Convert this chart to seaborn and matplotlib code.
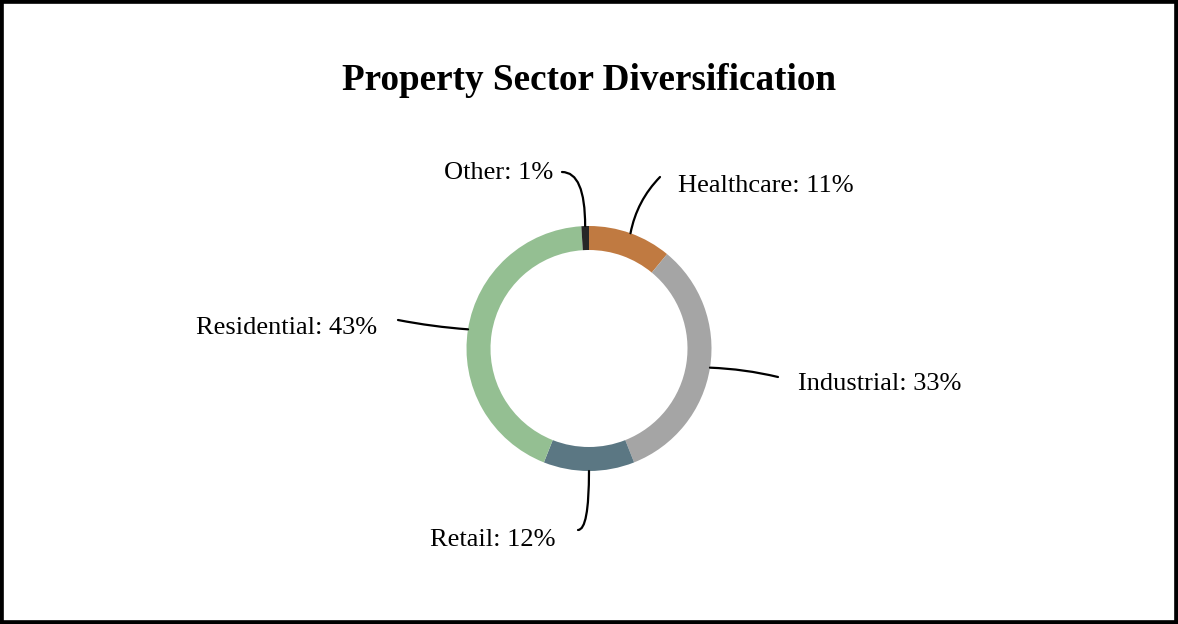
import numpy as np
import matplotlib
matplotlib.use("Agg")
import matplotlib.pyplot as plt
import seaborn as sns
from matplotlib.patches import Rectangle

sectors = ["Healthcare", "Industrial", "Retail", "Residential", "Other"]
shares = [11, 33, 12, 43, 1]
colors = ["#C07A41", "#A5A5A5", "#5B7783", "#94BF92", "#272727"]
title = "Property Sector Diversification"

sns.set_theme(style="white")
plt.rcParams["font.family"] = ["Liberation Serif", "DejaVu Serif"]

W, H = 1178, 624
fig = plt.figure(figsize=(W / 100, H / 100), dpi=100)
ax = fig.add_axes([0, 0, 1, 1])
ax.set_xlim(0, W)
ax.set_ylim(0, H)
ax.set_aspect("equal")
ax.axis("off")

cx, cy = 589, H - 348.5
R = 122.5
ring = 24

ax.pie(shares, colors=colors, startangle=90, counterclock=False,
       center=(cx, cy), radius=R, wedgeprops=dict(width=ring, linewidth=0),
       frame=True)
ax.set_xlim(0, W)
ax.set_ylim(0, H)
ax.axis("off")

total = sum(shares)
cum = np.cumsum([0] + shares[:-1])
# label layout: (line end px, text anchor px, ha, connection style)
layout = {
    "Healthcare": ((660, 177), (678, 186), "left", "arc3,rad=0.15"),
    "Industrial": ((778, 377), (798, 384), "left", "arc3,rad=0.05"),
    "Retail": ((578, 530), (556, 540), "right", "angle3,angleA=0,angleB=90"),
    "Residential": ((398, 320), (377, 328), "right", "arc3,rad=0.03"),
    "Other": ((562, 172), (553, 173), "right", "angle3,angleA=0,angleB=90"),
}
for name, val, c0 in zip(sectors, shares, cum):
    mid = (c0 + val / 2) / total * 360
    ang = np.deg2rad(90 - mid)
    px, py = cx + R * np.cos(ang), cy + R * np.sin(ang)
    (ex, ey), (tx, ty), ha, cs = layout[name]
    ax.annotate("", xy=(px, py), xytext=(ex, H - ey),
                arrowprops=dict(arrowstyle="-", color="black", lw=1.6,
                                connectionstyle=cs, shrinkA=0, shrinkB=0))
    ax.text(tx, H - ty, f"{name}: {val}%", ha=ha, va="center",
            fontsize=19, color="black")

ax.text(W / 2, H - 81, title, ha="center", va="center", fontsize=26.7,
        fontweight="bold", color="black")

fig.patches.append(Rectangle((0, 0), 1, 1, transform=fig.transFigure,
                             fill=False, edgecolor="black", linewidth=5.5))

fig.savefig("out.png", dpi=100, facecolor="white")
